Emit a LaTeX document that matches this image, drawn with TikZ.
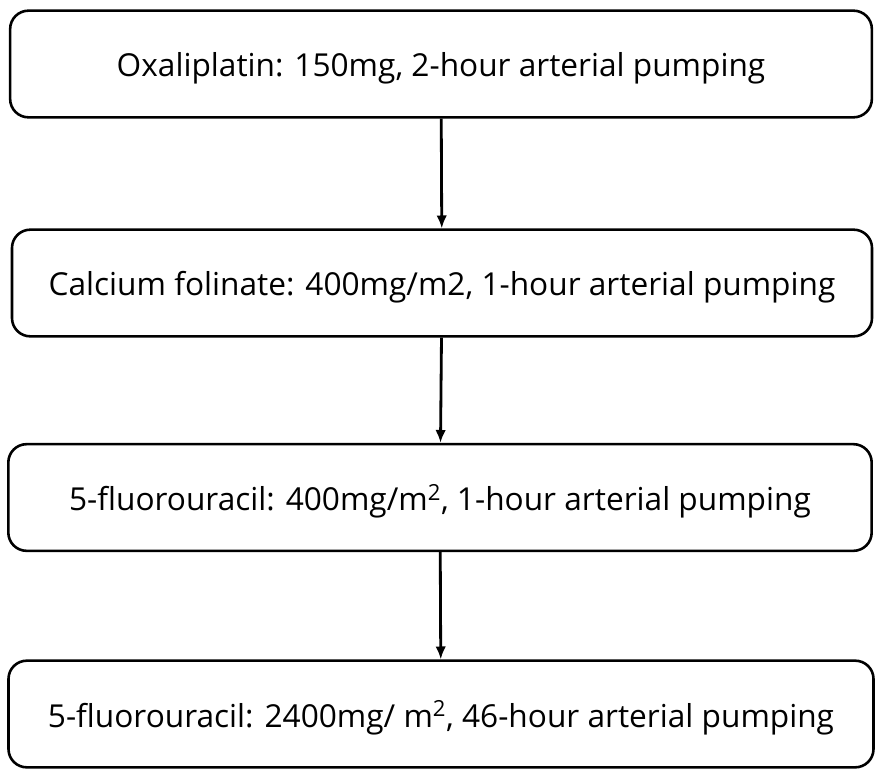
\documentclass[tikz,border=0pt]{standalone}
\usepackage{fontspec}
\setmainfont{Open Sans}
\usepackage{tikz}
\usetikzlibrary{arrows.meta}

\begin{document}
\begin{tikzpicture}[x=0.03cm,y=-0.03cm,->,>={Latex[length=11pt,width=9pt]},line width=2.4pt,
        step node/.style={rectangle,rounded corners=0.55cm,draw=black,line width=2.2pt,
            minimum height=3.2cm,inner sep=0pt,text depth=0pt,font=\fontsize{27}{31}\selectfont}]

    \useasboundingbox (0,0) rectangle (886,777);

    \node[step node, minimum width=25.85cm] (O) at (441,64) {Oxaliplatin: 150mg, 2-hour arterial pumping};
    \node[step node, minimum width=25.8cm] (C) at (442,283) {Calcium folinate: 400mg/m2, 1-hour arterial pumping};
    \node[step node, minimum width=25.9cm] (F) at (440,497.5) {5-fluorouracil: 400mg/m\textsuperscript{2}, 1-hour arterial pumping};
    \node[step node, minimum width=25.95cm] (L) at (441,714) {5-fluorouracil: 2400mg/ m\textsuperscript{2}, 46-hour arterial pumping};

    \path
    (O) edge (C)
    (C) edge (F)
    (F) edge (L);

\end{tikzpicture}
\end{document}
